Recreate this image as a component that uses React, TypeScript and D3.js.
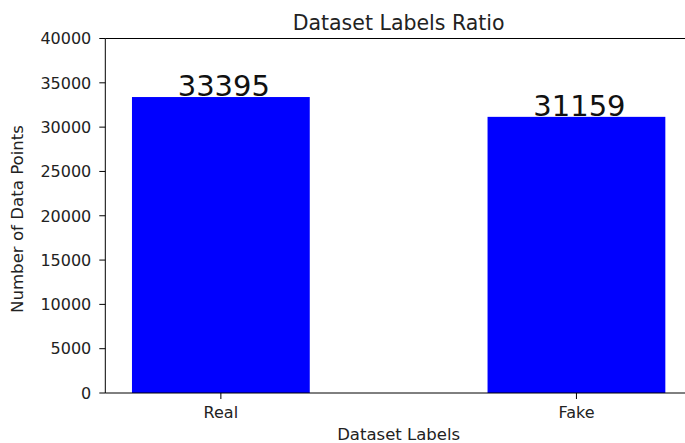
import React from "react";
import * as d3 from "d3";

const categories = ["Real", "Fake"];
const values = [33395, 31159];
const yTicks = [0, 5000, 10000, 15000, 20000, 25000, 30000, 35000, 40000];
const title = "Dataset Labels Ratio";
const xLabel = "Dataset Labels";
const yLabel = "Number of Data Points";

const W = 685;
const H = 443;
const FONT = "DejaVu Sans, sans-serif";

export default function App() {
  const left = 105.3;
  const right = 692;
  const top = 38.5;
  const bottom = 393;
  const barWidth = 0.5;

  const x = d3.scaleLinear().domain([-0.325, 1.325]).range([left, right]);
  const y = d3.scaleLinear().domain([0, 40000]).range([bottom, top]);

  return (
    <svg
      width={W}
      height={H}
      style={{ position: "fixed", left: 0, top: 0, background: "#fff" }}
      fontFamily={FONT}
    >
      <rect x={0} y={0} width={W} height={H} fill="#fff" />
      {values.map((v, i) => (
        <rect
          key={"b" + i}
          x={x(i - barWidth / 2)}
          y={y(v)}
          width={x(i + barWidth / 2) - x(i - barWidth / 2)}
          height={y(0) - y(v)}
          fill="#0000ff"
        />
      ))}
      {values.map((v, i) => (
        <text
          key={"v" + i}
          x={x(i) + 3}
          y={y(v) - 1}
          fontSize={29}
          textAnchor="middle"
          fill="#111"
        >
          {v}
        </text>
      ))}
      {/* spines */}
      <line x1={left} x2={left} y1={top} y2={bottom} stroke="#000" strokeWidth={1} />
      <line x1={left} x2={right} y1={top} y2={top} stroke="#000" strokeWidth={1} />
      <line x1={left} x2={right} y1={bottom} y2={bottom} stroke="#000" strokeWidth={1} />
      <line x1={right} x2={right} y1={top} y2={bottom} stroke="#000" strokeWidth={1} />
      {/* y ticks */}
      {yTicks.map((t) => (
        <g key={"yt" + t}>
          <line x1={left - 6} x2={left} y1={y(t)} y2={y(t)} stroke="#000" strokeWidth={1} />
          <text
            x={left - 14}
            y={y(t)}
            dy="0.36em"
            fontSize={16}
            textAnchor="end"
            fill="#222"
          >
            {t}
          </text>
        </g>
      ))}
      {/* x ticks */}
      {categories.map((c, i) => (
        <g key={"xt" + c}>
          <line x1={x(i)} x2={x(i)} y1={bottom} y2={bottom + 6} stroke="#000" strokeWidth={1} />
          <text x={x(i)} y={418} fontSize={16} textAnchor="middle" fill="#222">
            {c}
          </text>
        </g>
      ))}
      <text x={(left + right) / 2} y={440} fontSize={16.5} textAnchor="middle" fill="#222">
        {xLabel}
      </text>
      <text
        transform={`translate(23, ${(125 + 313) / 2}) rotate(-90)`}
        fontSize={15}
        textAnchor="middle"
        fill="#222"
        textLength={188}
        lengthAdjust="spacingAndGlyphs"
      >
        {yLabel}
      </text>
      <text x={(left + right) / 2} y={30} fontSize={20.5} textAnchor="middle" fill="#222">
        {title}
      </text>
    </svg>
  );
}
